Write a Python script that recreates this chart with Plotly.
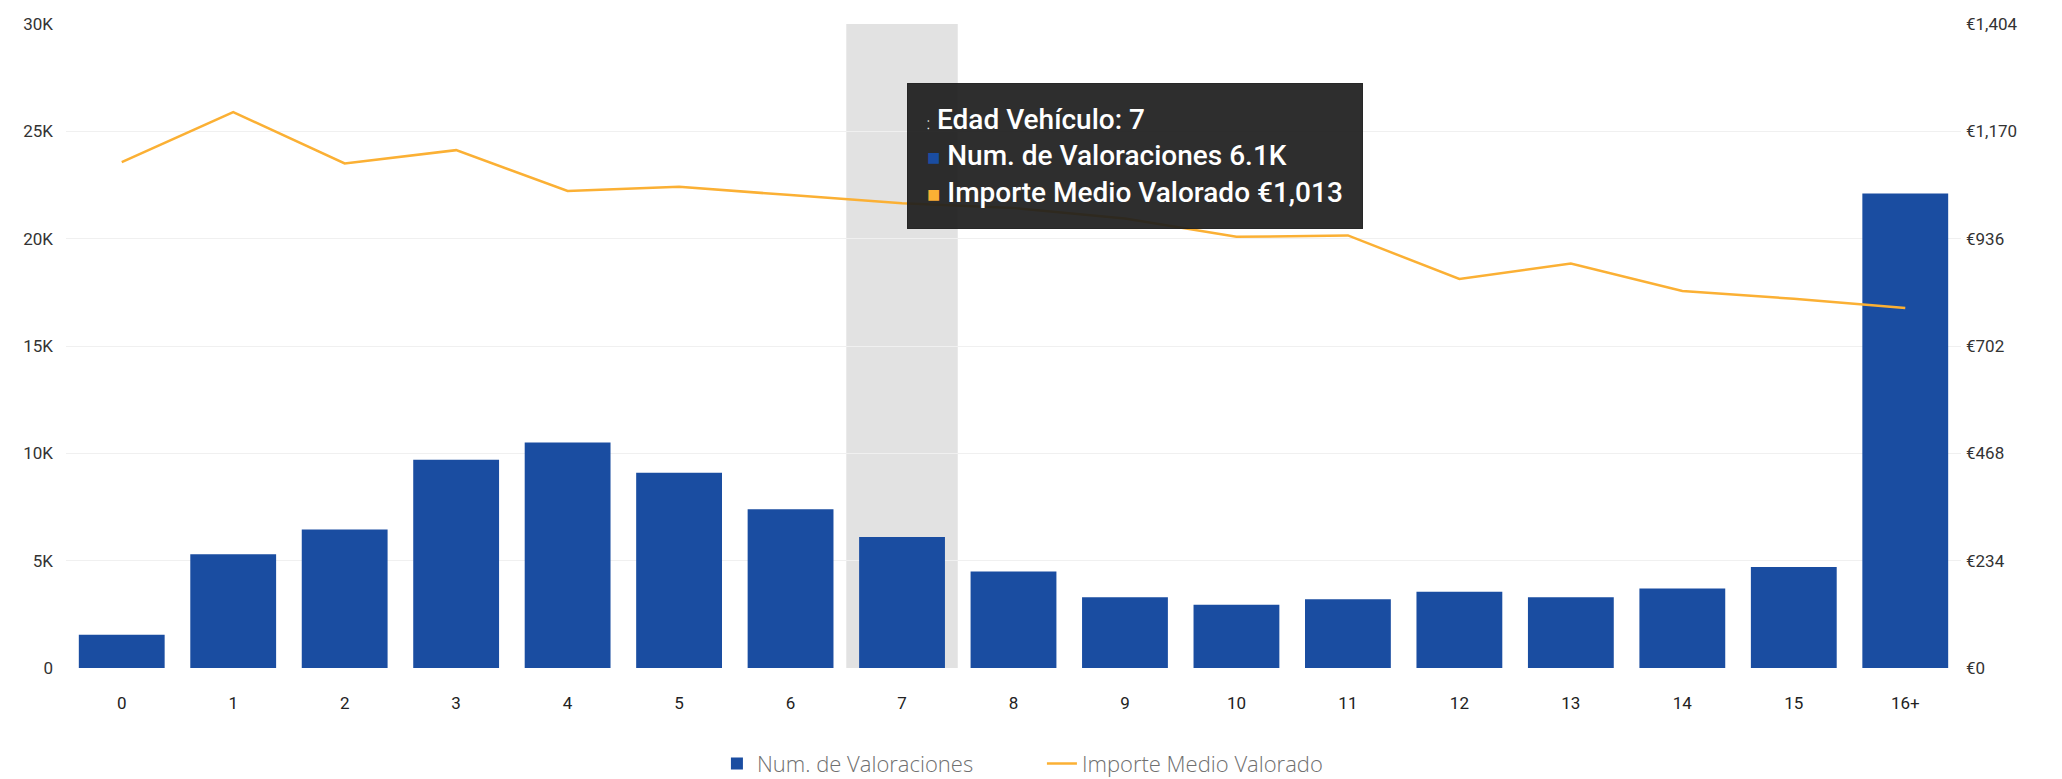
import plotly.graph_objects as go

categories = ["0", "1", "2", "3", "4", "5", "6", "7", "8", "9", "10", "11", "12", "13", "14", "15", "16+"]
num_valoraciones = [1550, 5300, 6450, 9700, 10500, 9100, 7400, 6100, 4500, 3300, 2950, 3200, 3550, 3300, 3700, 4700, 22100]
importe_medio = [1103, 1212, 1100, 1129, 1040, 1049, 1031, 1013, 1003, 980, 940, 943, 848, 882, 822, 805, 785]

left_ticks = [0, 5000, 10000, 15000, 20000, 25000, 30000]
left_labels = ["0", "5K", "10K", "15K", "20K", "25K", "30K"]
right_ticks = [0, 234, 468, 702, 936, 1170, 1404]
right_labels = ["€0", "€234", "€468", "€702", "€936", "€1,170", "€1,404"]

highlight_cat = "7"

BAR = "#1A4DA1"
LINE = "#FBB034"
FONT = "Roboto, Arial, sans-serif"

fig = go.Figure()
fig.add_trace(go.Bar(
    x=categories, y=num_valoraciones, name="Num. de Valoraciones",
    marker=dict(color=BAR, line=dict(width=0)), yaxis="y",
))
fig.add_trace(go.Scatter(
    x=categories, y=importe_medio, name="Importe Medio Valorado",
    mode="lines", line=dict(color=LINE, width=2.5), yaxis="y2",
))

hi = categories.index(highlight_cat)
fig.add_shape(type="rect", xref="x", yref="paper", x0=hi - 0.5, x1=hi + 0.5, y0=0, y1=1,
              fillcolor="#E2E2E2", line=dict(width=0), layer="below")

tip = ("<span style='color:#ffffff;font-size:12px'>⁚</span> Edad Vehículo: " + highlight_cat + "<br>"
       + "<span style='color:" + BAR + ";font-size:22px'>■</span> Num. de Valoraciones " + f"{num_valoraciones[hi]/1000:.1f}K" + "<br>"
       + "<span style='color:" + LINE + ";font-size:22px'>■</span> Importe Medio Valorado " + f"€{importe_medio[hi]:,}")
fig.add_annotation(
    xref="x", yref="paper", x=hi, y=0.908, xanchor="left", yanchor="top", xshift=5,
    text=tip, showarrow=False, align="left",
    font=dict(family=FONT, size=28, color="#FFFFFF", weight=500),
    bgcolor="rgba(30,30,30,0.93)", bordercolor="rgba(30,30,30,0.93)", borderpad=19, borderwidth=1,
)

fig.update_layout(
    width=2062, height=779,
    margin=dict(l=58, r=109, t=16, b=119, autoexpand=False),
    paper_bgcolor="white", plot_bgcolor="white",
    font=dict(family=FONT, size=17, color="#333333"),
    bargap=0.23,
    showlegend=True,
    legend=dict(orientation="h", x=0.515, xanchor="center", yref="container", y=0.03, yanchor="middle",
                font=dict(family="Open Sans, Arial, sans-serif", size=22, color="#707070", weight=300),
                itemwidth=30, entrywidth=280),
    xaxis=dict(type="category", showgrid=False, zeroline=False, showline=False, automargin=False,
               ticks="", tickfont=dict(size=17, color="#222222"), ticklabelstandoff=23),
    yaxis=dict(range=[0, 30000], tickvals=left_ticks, ticktext=left_labels, automargin=False,
               showgrid=True, gridcolor="#F0F0F0", gridwidth=1, zeroline=False,
               tickfont=dict(size=17, color="#333333"), ticklabelstandoff=12),
    yaxis2=dict(range=[0, 1404], tickvals=right_ticks, ticktext=right_labels, automargin=False,
                overlaying="y", side="right", showgrid=False, zeroline=False,
                tickfont=dict(size=17, color="#333333"), ticklabelstandoff=4),
)

fig.write_html("out.html")
